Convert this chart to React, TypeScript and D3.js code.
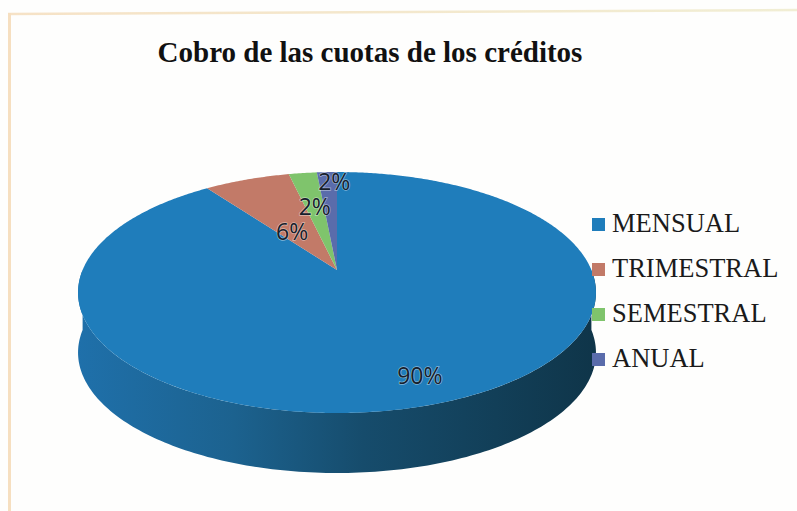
import { useEffect, useRef } from "react";
import * as d3 from "d3";

const categories = ["MENSUAL", "TRIMESTRAL", "SEMESTRAL", "ANUAL"];
// they round to the printed 90 / 6 / 2 / 2
const values = [90, 6.4, 2.1, 1.5];
const colors = ["#1f7dbb", "#c27a68", "#7fc46c", "#5a6cab"];

const width = 797;
const height = 511;

const App = () => {
  const ref = useRef<SVGSVGElement | null>(null);

  useEffect(() => {
    const svg = d3.select(ref.current);
    svg.selectAll("*").remove();

    // the pie is tilted in perspective, so its centre is not the centre of the ellipse
    const cx = 337,
      cy = 270,
      k = 0.1868,
      bx = 254.4,
      by = 116.3,
      depth = 60;

    const project = (angle: number): [number, number] => {
      const u = Math.sin(angle);
      const v = -Math.cos(angle);
      const w = 1 - k * v;
      return [cx + (bx * u) / w, cy + (by * v) / w];
    };

    const line = d3.line();

    const defs = svg.append("defs");
    const wallGradient = defs
      .append("linearGradient")
      .attr("id", "wall-gradient")
      .attr("x1", "0%")
      .attr("x2", "100%")
      .attr("y1", "0%")
      .attr("y2", "0%");
    wallGradient.append("stop").attr("offset", "0%").attr("stop-color", "#1f70aa");
    wallGradient.append("stop").attr("offset", "30%").attr("stop-color", "#1c628f");
    wallGradient.append("stop").attr("offset", "55%").attr("stop-color", "#164c6c");
    wallGradient.append("stop").attr("offset", "100%").attr("stop-color", "#0f3549");

    const topGradient = defs
      .append("linearGradient")
      .attr("id", "top-border")
      .attr("gradientUnits", "userSpaceOnUse")
      .attr("x1", 8)
      .attr("x2", 797)
      .attr("y1", 0)
      .attr("y2", 0);
    topGradient.append("stop").attr("offset", "0%").attr("stop-color", "#f6e2c6");
    topGradient.append("stop").attr("offset", "100%").attr("stop-color", "#f1eed4");

    svg
      .append("rect")
      .attr("width", width)
      .attr("height", height)
      .attr("fill", "#fefefd");
    // scanned frame, slightly skewed, only the top and left sides show
    svg
      .append("line")
      .attr("x1", 8)
      .attr("y1", 14)
      .attr("x2", 797)
      .attr("y2", 10)
      .attr("stroke", "url(#top-border)")
      .attr("stroke-width", 2.5);
    svg
      .append("line")
      .attr("x1", 9.5)
      .attr("y1", 13)
      .attr("x2", 9.5)
      .attr("y2", 511)
      .attr("stroke", "#f6dfc0")
      .attr("stroke-width", 3);

    svg
      .append("text")
      .attr("x", 370)
      .attr("y", 62)
      .attr("text-anchor", "middle")
      .attr("font-family", "Liberation Serif")
      .attr("font-weight", "bold")
      .attr("font-size", 29)
      .attr("fill", "#111")
      .text("Cobro de las cuotas de los créditos");

    // side wall: lower half of the rim, pushed down by the depth
    const rim = d3.range(90, 270.5, 1).map((d) => project((d * Math.PI) / 180));
    const wall: [number, number][] = [
      ...rim,
      ...rim
        .slice()
        .reverse()
        .map((p): [number, number] => [p[0], p[1] + depth]),
    ];
    svg
      .append("path")
      .attr("d", line(wall) as string)
      .attr("fill", "url(#wall-gradient)");

    const pie = d3
      .pie<number>()
      .sort(null)
      .value((d) => d);
    const arcs = pie(values);

    const slices = svg.append("g");
    arcs.forEach((a, i) => {
      const steps = Math.max(2, Math.ceil((a.endAngle - a.startAngle) / 0.01));
      const angles = d3
        .range(steps + 1)
        .map((s) => a.startAngle + ((a.endAngle - a.startAngle) * s) / steps);
      const points: [number, number][] = [[cx, cy], ...angles.map(project)];
      slices
        .append("path")
        .attr("d", line(points) + "Z")
        .attr("fill", colors[i]);
    });

    // label spot: a fraction along the radius of each slice, then a small nudge
    const labelRadius = [0.72, 0.62, 0.62, 0.87];
    const labelNudge = [
      [14, 9],
      [11, 18.5],
      [-1, -3],
      [6, -3],
    ];
    arcs.forEach((a, i) => {
      const mid = (a.startAngle + a.endAngle) / 2;
      const p = project(mid);
      const x = cx + (p[0] - cx) * labelRadius[i] + labelNudge[i][0];
      const y = cy + (p[1] - cy) * labelRadius[i] + labelNudge[i][1];
      svg
        .append("text")
        .attr("x", x)
        .attr("y", y)
        .attr("dy", "0.35em")
        .attr("text-anchor", "middle")
        .attr("font-family", "Open Sans")
        .attr("font-size", 23)
        .attr("fill", "#16202c")
        .attr("stroke", "#ffffff")
        .attr("stroke-opacity", 0.45)
        .attr("stroke-width", 1.5)
        .attr("paint-order", "stroke")
        .text(`${Math.round(a.data)}%`);
    });

    const legendY = d3
      .scalePoint<string>()
      .domain(categories)
      .range([224.5, 359.5]);
    const legend = svg
      .append("g")
      .selectAll("g")
      .data(categories)
      .enter()
      .append("g")
      .attr("transform", (d) => `translate(592,${legendY(d)})`);
    legend
      .append("rect")
      .attr("y", -6.5)
      .attr("width", 13)
      .attr("height", 13)
      .attr("fill", (_, i) => colors[i]);
    legend
      .append("text")
      .attr("x", 20)
      .attr("y", -2)
      .attr("dy", "0.34em")
      .attr("font-family", "Liberation Serif")
      .attr("font-size", 26.5)
      .attr("fill", "#1a1a1a")
      .text((d) => d);
  }, []);

  return (
    <svg
      ref={ref}
      width={width}
      height={height}
      style={{ position: "absolute", left: 0, top: 0 }}
    />
  );
};

export default App;
